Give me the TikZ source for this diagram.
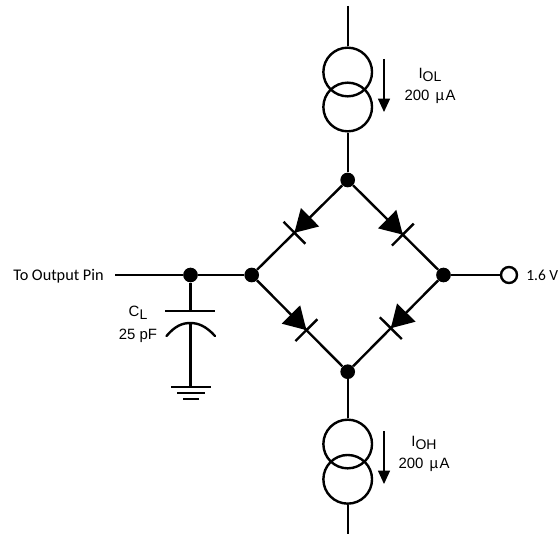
\documentclass[tikz,border=0pt]{standalone}
\usepackage{fontspec}
\newfontfamily\labfont{Liberation Sans}
\newfontfamily\pinfont{Carlito}
\usetikzlibrary{positioning, calc, arrows.meta}
\tikzset{
	wire/.style={line width=1.8pt},
	dot/.style={shape=circle, fill=black, inner sep=0pt, minimum size=11pt},
	source/.style={shape=circle, draw, line width=1.8pt, inner sep=0pt, minimum size=36.5pt},
	pin/.style={shape=circle, draw, fill=white, line width=1.8pt, inner sep=0pt, minimum size=12pt},
	flow/.style={line width=0.9pt, -{Triangle[length=10pt, width=9pt]}},
	lab/.style={inner sep=0pt, align=center, font=\labfont\fontsize{11.2}{16}\selectfont},
	pinlab/.style={inner sep=0pt, font=\pinfont\fontsize{12.2}{14}\selectfont}
}
\newcommand{\lowsub}[1]{\raisebox{-0.35ex}{\fontsize{10.5}{10.5}\selectfont #1}}
\newcommand{\diode}[4]{
	\coordinate (#1) at ($(#2)!#4!(#3)$);
	\coordinate (#1b) at ($(#1)!16.5pt!(#2)$);
	\fill ($(#1b)!9.75pt!90:(#1)$) -- ($(#1b)!9.75pt!-90:(#1)$) -- (#1) -- cycle;
	\draw[wire] ($(#1)!11.6pt!90:(#2)$) -- ($(#1)!11.6pt!-90:(#2)$);
}
\begin{document}
\begin{tikzpicture}[x=0.75pt, y=-0.75pt]
	\useasboundingbox (0, 0) rectangle (559, 535);
	% bridge
	\node[dot] (T) at (347.7, 180) {};
	\node[dot] (L) at (251.7, 275) {};
	\node[dot] (R) at (443.5, 275) {};
	\node[dot] (B) at (347.7, 371.7) {};
	\node[dot] (J) at (190.5, 275) {};
	\draw[wire] (T) -- (L);
	\draw[wire] (T) -- (R);
	\draw[wire] (L) -- (B);
	\draw[wire] (R) -- (B);
	\diode{DA}{T}{L}{0.555}
	\diode{DB}{T}{R}{0.575}
	\diode{DC}{L}{B}{0.57}
	\diode{DD}{R}{B}{0.55}
	% top source
	\coordinate (TopEnd) at (347.7, 6);
	\node[source] (SA) at (347.7, 72) {};
	\node[source] (SB) at (347.7, 107) {};
	\draw[wire] (TopEnd) -- (SA);
	\draw[wire] (SB) -- (T);
	\coordinate (FA) at (384, 59);
	\coordinate (FB) at (384, 112);
	\draw[flow] (FA) -- (FB);
	\node[lab] (IOL) at (430, 75) {I\lowsub{OL}};
	\node[lab] (IOLv) at (430, 97) {200 \kern1.5pt µ\kern1pt A};
	% bottom source
	\coordinate (BotEnd) at (347.7, 534);
	\node[source] (SC) at (347.7, 444) {};
	\node[source] (SD) at (347.7, 479.3) {};
	\draw[wire] (B) -- (SC);
	\draw[wire] (SD) -- (BotEnd);
	\coordinate (FC) at (384, 431);
	\coordinate (FD) at (384, 484);
	\draw[flow] (FC) -- (FD);
	\node[lab] (IOH) at (424, 443) {I\lowsub{OH}};
	\node[lab] (IOHv) at (424, 465) {200 \kern1.5pt µ\kern1pt A};
	% left side and capacitor
	\node[pinlab, anchor=west] (OutLab) at (13, 276) {To Output Pin};
	\coordinate (OutEnd) at (115, 275);
	\draw[wire] (OutEnd) -- (J);
	\draw[wire] (J) -- (L);
	\coordinate (CapTop) at (190.5, 311);
	\coordinate (CapBot) at (190.5, 323);
	\coordinate (Gnd) at (190.5, 387);
	\draw[wire] (J) -- (CapTop);
	\draw[wire] (165, 311) -- (215, 311);
	\draw[wire, line cap=round] (166.5, 336) .. controls (175, 326) and (182, 323) .. (CapBot) .. controls (198, 323) and (206, 326) .. (215, 336);
	\draw[wire] (CapBot) -- (Gnd);
	\draw[wire] (171, 387) -- (211, 387);
	\draw[wire] (177, 393) -- (205, 393);
	\draw[wire] (183, 399) -- (199, 399);
	\node[lab] (CL) at (138, 313) {C\lowsub{L}};
	\node[lab] (CLv) at (138, 336) {25 pF};
	% right side
	\node[pin] (Out) at (509, 275) {};
	\draw[wire] (R) -- (Out);
	\node[pinlab, anchor=east, font=\pinfont\fontsize{11.6}{14}\selectfont] (VLab) at (558.5, 275) {1.6 V};
\end{tikzpicture}
\end{document}
